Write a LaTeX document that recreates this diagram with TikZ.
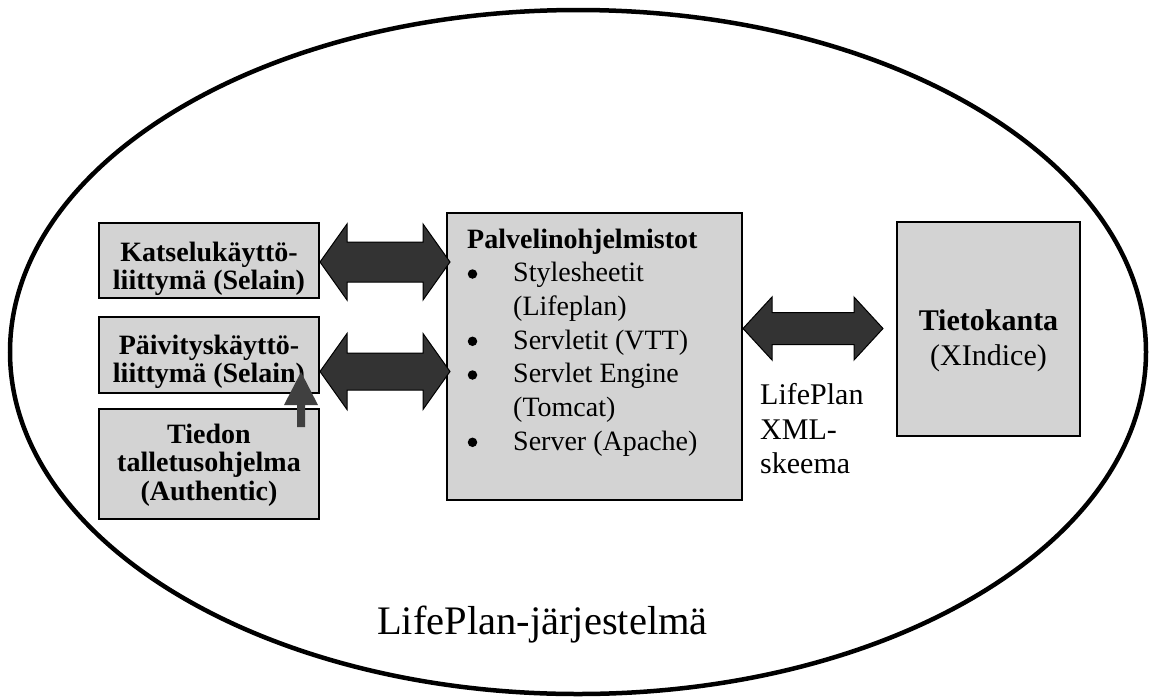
\documentclass[tikz,border=0pt]{standalone}
\usepackage{fontspec}
\setmainfont{Liberation Serif}
\usetikzlibrary{calc}
\definecolor{boxgray}{HTML}{D3D3D3}
\definecolor{arrowdark}{HTML}{333333}
\definecolor{uparrow}{HTML}{404040}
\newcommand\blockarrow[5]{%
  \draw[blk] (#1) -- ($(#1)+(#5,-#3)$) -- ($(#1)+(#5,-#4)$) -- ($(#2)+(-#5,-#4)$) -- ($(#2)+(-#5,-#3)$) -- (#2)
   -- ($(#2)+(-#5,#3)$) -- ($(#2)+(-#5,#4)$) -- ($(#1)+(#5,#4)$) -- ($(#1)+(#5,#3)$) -- cycle;}
\tikzset{
  box/.style={draw=black, line width=1.4pt, fill=boxgray},
  blk/.style={draw=black, line width=1pt, fill=arrowdark, line join=miter},
  txt/.style={inner sep=0pt, anchor=base},
  txtw/.style={inner sep=0pt, anchor=base west},
  bul/.style={fill=black, circle, inner sep=0pt, minimum size=9.5pt},
  f28/.style={font=\fontsize{28}{33}\selectfont},
  f30/.style={font=\fontsize{30}{35}\selectfont},
  f40/.style={font=\fontsize{40.5}{48}\selectfont},
}
\begin{document}
\begin{tikzpicture}[x=1pt,y=-1pt]
\useasboundingbox (0,0) rectangle (1149,697);
\begin{scope}
\clip (0,0) rectangle (1149,697);
% outer ellipse
\draw[line width=4.5pt] (578,352) ellipse [x radius=568, y radius=342];

% boxes
\draw[box] (99,223) rectangle (319,298); \coordinate (kat) at (209,260.5);
\draw[box] (99,317) rectangle (319,393); \coordinate (pai) at (209,355);
\draw[box] (99,409) rectangle (319,519); \coordinate (tie) at (209,464);
\draw[box] (447,213) rectangle (742,500);
\draw[box] (897,222) rectangle (1080,436);

% left box texts
\node[txt,f28] (k1) at (209,261) {\bfseries Katselukäyttö-};
\node[txt,f28] (k2) at (209,289) {\bfseries liittymä (Selain)};
\node[txt,f28] (p1) at (209,354) {\bfseries Päivityskäyttö-};
\node[txt,f28] (p2) at (209,382) {\bfseries liittymä (Selain)};
\node[txt,f28] (t1) at (209,443) {\bfseries Tiedon};
\node[txt,f28] (t2) at (209,471.5) {\bfseries talletusohjelma};
\node[txt,f28] (t3) at (209,500) {\bfseries (Authentic)};

% up arrow
\coordinate (uptail) at (301,427);
\coordinate (uptip) at (301,372);
\fill[uparrow] ($(uptail)+(-4,0)$) -- ($(uptip)+(-4,33)$) -- ($(uptip)+(-17,33)$) -- (uptip)
  -- ($(uptip)+(17,33)$) -- ($(uptip)+(4,33)$) -- ($(uptail)+(4,0)$) -- cycle;

% central box text
\node[txtw,f28] (pt) at (467,248.3) {\bfseries Palvelinohjelmistot};
\node[bul] (b1) at (472.5,274) {};
\node[txtw,f28] (l1) at (513,281.7) {Stylesheetit};
\node[txtw,f28] (l2) at (513,315.3) {(Lifeplan)};
\node[bul] (b2) at (472.5,341.3) {};
\node[txtw,f28] (l3) at (513,349) {Servletit (VTT)};
\node[bul] (b3) at (472.5,375) {};
\node[txtw,f28] (l4) at (513,382.7) {Servlet Engine};
\node[txtw,f28] (l5) at (513,416.3) {(Tomcat)};
\node[bul] (b4) at (472.5,442.3) {};
\node[txtw,f28] (l6) at (513,450) {Server (Apache)};

% right box text
\node[txt,f30] (db1) at (988.5,330.7) {\bfseries Tietokanta};
\node[txt,f30] (db2) at (988.5,365.7) {(XIndice)};

% schema label
\node[txtw,f30] (s1) at (760,404) {LifePlan};
\node[txtw,f30] (s2) at (760,439) {XML-};
\node[txtw,f30] (s3) at (760,473.5) {skeema};

% double block arrows
\coordinate (a1l) at (320,262); \coordinate (a1r) at (450,262);
\blockarrow{a1l}{a1r}{38}{20}{27}
\coordinate (a2l) at (320,371.5); \coordinate (a2r) at (450,371.5);
\blockarrow{a2l}{a2r}{38}{18.5}{27}
\coordinate (a3l) at (743,328.5); \coordinate (a3r) at (883,328.5);
\blockarrow{a3l}{a3r}{31.5}{16}{29}

% system label
\node[txtw,f40] (sys) at (377,634) {LifePlan-järjestelmä};
\end{scope}
\end{tikzpicture}
\end{document}
